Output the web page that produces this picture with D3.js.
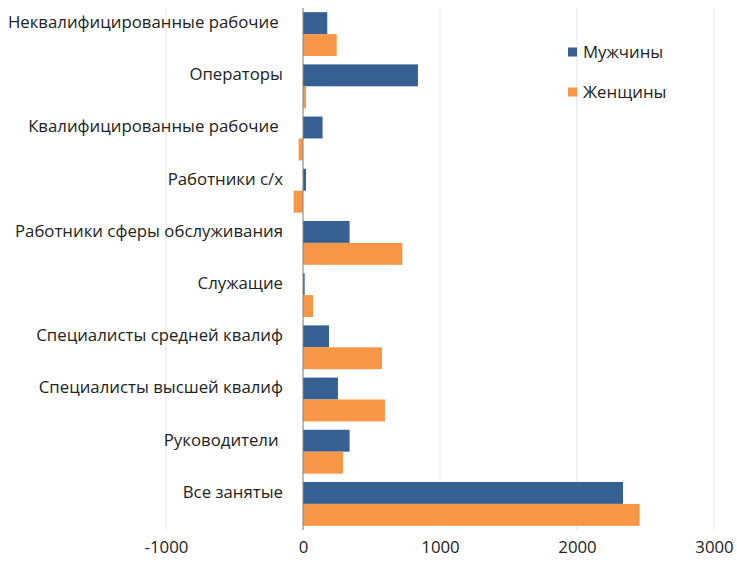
<!DOCTYPE html>
<html>
<head>
<meta charset="utf-8">
<script src="https://cdn.jsdelivr.net/npm/d3@7"></script>
<style>
  body { margin: 0; background: #fff; }
  text { font-family: "Open Sans", sans-serif; fill: #222; }
</style>
</head>
<body>
<div id="viz"></div>
<script>
// categories top -> bottom
var categories = [
  'Неквалифицированные рабочие ',
  'Операторы',
  'Квалифицированные рабочие ',
  'Работники с/х',
  'Работники сферы обслуживания',
  'Служащие',
  'Специалисты средней квалиф',
  'Специалисты высшей квалиф',
  'Руководители ',
  'Все занятые'
];
var seriesNames = ['Мужчины', 'Женщины'];
var men   = [177, 839, 143, 22, 340, 12, 190, 255, 340, 2336];
var women = [246, 22, -32, -68, 725, 73, 577, 598, 292, 2457];
var xTicks = [-1000, 0, 1000, 2000, 3000];

var colors = ['#366092', '#f79646'];

var width = 737, height = 565;
var margin = { top: 8, right: 23, bottom: 35, left: 166 };

var svg = d3.select('#viz').append('svg')
  .attr('width', width)
  .attr('height', height);

var x = d3.scaleLinear()
  .domain([-1000, 3000])
  .range([margin.left, width - margin.right]);

var y = d3.scaleBand()
  .domain(categories)
  .range([margin.top, height - margin.bottom])
  .paddingInner(0.16)
  .paddingOuter(0.08);

var sub = d3.scaleBand()
  .domain([0, 1])
  .range([0, y.bandwidth()]);

// gridlines
svg.append('g')
  .selectAll('line').data(xTicks)
  .enter().append('line')
    .attr('x1', function(d) { return x(d); })
    .attr('x2', function(d) { return x(d); })
    .attr('y1', margin.top)
    .attr('y2', height - margin.bottom)
    .attr('stroke', '#e3e3e3')
    .attr('stroke-width', 1);

var rows = categories.map(function(c, i) {
  return { cat: c, vals: [men[i], women[i]] };
});

var groups = svg.append('g')
  .selectAll('g').data(rows)
  .enter().append('g')
    .attr('transform', function(d) { return 'translate(0,' + y(d.cat) + ')'; });

groups.selectAll('rect')
  .data(function(d) { return d.vals.map(function(v, k) { return { v: v, k: k }; }); })
  .enter().append('rect')
    .attr('x', function(d) { return x(Math.min(0, d.v)); })
    .attr('width', function(d) { return Math.abs(x(d.v) - x(0)); })
    .attr('y', function(d) { return sub(d.k); })
    .attr('height', sub.bandwidth())
    .attr('fill', function(d) { return colors[d.k]; });

// zero axis line
svg.append('line')
  .attr('x1', x(0)).attr('x2', x(0))
  .attr('y1', margin.top).attr('y2', height - margin.bottom)
  .attr('stroke', '#888')
  .attr('stroke-width', 1);

// category labels (aligned to first bar of each group)
svg.append('g')
  .selectAll('text').data(categories)
  .enter().append('text')
    .attr('x', 283)
    .attr('y', function(d) { return y(d) + sub.bandwidth() / 2 - 1; })
    .attr('dy', '0.35em')
    .attr('text-anchor', 'end')
    .attr('xml:space', 'preserve')
    .style('white-space', 'pre')
    .style('font-size', '16.8px')
    .text(function(d) { return d; });

// x axis labels
var xAxis = d3.axisBottom(x)
  .tickValues(xTicks)
  .tickFormat(function(d) { return String(d); })
  .tickSize(0)
  .tickPadding(11);
var xg = svg.append('g')
  .attr('transform', 'translate(0,' + (height - margin.bottom) + ')')
  .call(xAxis);
xg.select('.domain').remove();
xg.selectAll('text')
  .style('font-family', '"Open Sans", sans-serif')
  .style('font-size', '16.8px')
  .attr('fill', '#222');

// legend
var legend = svg.append('g')
  .selectAll('g').data(seriesNames)
  .enter().append('g')
    .attr('transform', function(d, i) { return 'translate(568,' + (52 + i * 40) + ')'; });
legend.append('rect')
  .attr('x', 0).attr('y', -4.5)
  .attr('width', 9).attr('height', 9)
  .attr('fill', function(d, i) { return colors[i]; });
legend.append('text')
  .attr('x', 15).attr('dy', '0.35em')
  .style('font-size', '16.8px')
  .text(function(d) { return d; });
</script>
</body>
</html>
